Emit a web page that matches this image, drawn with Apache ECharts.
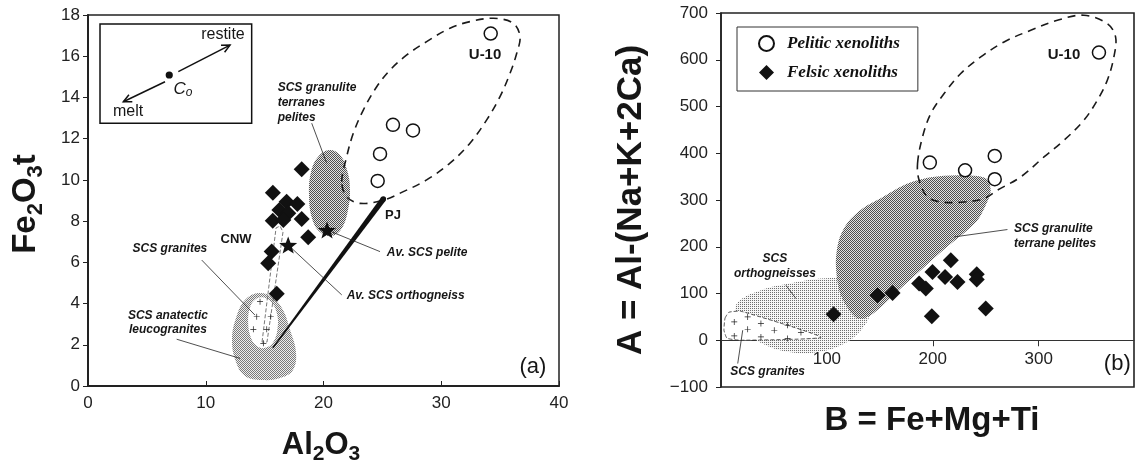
<!DOCTYPE html>
<html>
<head>
<meta charset="utf-8">
<script src="https://cdn.jsdelivr.net/npm/echarts@6/dist/echarts.min.js"></script>
<style>
html,body{margin:0;padding:0;background:#fff}
#chart{width:1136px;height:465px}
</style>
</head>
<body>
<div id="chart"></div>
<script>
// ---------- Panel (a): Al2O3 vs Fe2O3t (wt%) ----------
const pelitesA = [[34.2,17.1],[25.9,12.67],[27.6,12.4],[24.8,11.26],[24.6,9.95]];
const felsicA = [[18.15,10.52],[15.7,9.38],[16.87,8.94],[17.78,8.83],[16.25,8.54],[17.01,8.38],
                 [15.69,8.02],[16.59,8.05],[18.15,8.1],[18.7,7.22],[15.6,6.52],[15.3,5.96],[16.03,4.47]];
const avPeliteA = [[20.3,7.57]];
const avOrthoA = [[17.0,6.84]];
const granitePlusA = [[14.61,4.09],[14.33,3.36],[15.52,3.36],[14.04,2.75],[15.18,2.75],[14.89,2.07]];
const pelitesFieldA = [[21.55,9.91],[21.97,11.13],[22.53,12.26],[23.38,13.39],[24.52,14.52],[25.65,15.33],
  [27.07,16.06],[28.76,16.71],[30.74,17.36],[32.44,17.68],[34.42,17.84],[36.12,17.6],[36.69,16.95],
  [36.41,16.14],[35.84,15.17],[34.99,14.04],[33.86,12.91],[32.44,11.78],[30.74,10.81],[28.76,10.0],
  [26.78,9.43],[25.08,9.02],[23.1,8.86],[21.97,9.18]];
const granuliteFieldA = [[20.47,11.45],[21.4,11.21],[22.0,10.48],[22.25,9.51],[22.08,8.54],[21.57,7.67],
  [20.72,7.28],[19.7,7.47],[19.02,8.15],[18.77,9.27],[18.94,10.38],[19.53,11.11]];
const leucograniteFieldA = [[14.44,4.51],[15.63,4.32],[16.56,3.69],[17.16,2.72],[17.66,1.65],[17.41,0.78],
  [16.31,0.39],[14.78,0.29],[13.33,0.49],[12.57,1.16],[12.23,2.23],[12.57,3.3],[13.33,4.17]];
const graniteFieldA = [[14.86,4.3],[15.6,4.05],[16.05,3.5],[16.1,2.8],[15.75,2.15],[15.05,1.85],
  [14.3,1.95],[13.8,2.4],[13.6,3.1],[13.75,3.8],[14.2,4.2]];
const cnwFieldA = [[14.78,2.13],[15.97,7.67],[16.31,7.76],[16.56,7.47],[15.2,2.13]];
const pjTrendA = [[15.7,1.85],[25.08,9.07]];
const xTicksA = {min: 0, max: 40, step: 10};
const yTicksA = {min: 0, max: 18, step: 2};

// ---------- Panel (b): B = Fe+Mg+Ti vs A = Al-(Na+K+2Ca) ----------
const pelitesB = [[356.9,615.4],[197.2,380],[230.5,363.6],[258.5,394.2],[258.5,344.4]];
const felsicB = [[106.3,55.6],[147.8,96.3],[162,101.2],[187.1,121.2],[193.4,110.6],[199.7,146.1],
  [211.6,135.4],[217,171.1],[223.3,124.7],[241.5,141.2],[241.5,129.8],[250,67.8],[199.1,51.3]];
const granitePlusB = [[12.5,39.1],[25.2,49.8],[37.7,35.7],[50.3,21.4],[62.9,32.1],[75.5,16.5],
  [12.5,9.2],[25.2,23.5],[37.7,7.1],[62.9,3.6]];
const pelitesFieldB = [[185.6,378],[190.3,434.9],[198.1,484.9],[210.7,527.7],[226.4,570.5],[245.3,606],
  [267.3,638.1],[292.5,663.1],[317.6,684.5],[342.7,695.2],[364.8,677.4],[372.6,648.8],[371,606],
  [364.8,556.1],[355.4,513.4],[342.7,470.6],[323.9,427.8],[305,392.1],[283,349.3],[261,320.9],
  [248.4,303.1],[229.5,295.8],[207.5,295.8],[195,306.5],[187.1,342.2]];
const granuliteFieldB = [[128.3,47.1],[113.2,96.3],[108.5,160.4],[111.3,213.9],[119.8,252.4],[134,282.4],
  [150.9,303.7],[174.5,333.7],[198.1,348.7],[226.4,352.9],[250,346.5],[254.7,320.9],[250,288.8],
  [240.6,252.4],[207.5,188.2],[169.8,111.2],[141.5,53.5]];
const orthogneissFieldB = [[16,81.3],[37.7,107],[66,121.9],[99.1,132.6],[122.6,128.3],[137.7,107],
  [141.5,64.2],[132.1,21.4],[113.2,-10.7],[89.6,-25.7],[66,-25.7],[42.5,-10.7],[23.6,17.1],[14.2,53.5]];
const graniteFieldB = [[3.8,47.1],[7.5,59.9],[18.9,62],[94.3,6.4],[18.9,0],[5.7,4.3],[2.8,21.4]];
const xTicksB = {min: 0, max: 390, step: 100};
const yTicksB = {min: -100, max: 700, step: 100};

// ---------- styling helpers ----------
const SANS = '"Liberation Sans", Arial, sans-serif';
const SERIF = '"Liberation Serif", "Times New Roman", serif';
const INK = '#161616';

function dotPattern(size, dots, ink, paper) {
  const c = document.createElement('canvas');
  c.width = c.height = size;
  const g = c.getContext('2d');
  g.fillStyle = paper; g.fillRect(0, 0, size, size);
  g.fillStyle = ink;
  dots.forEach(([x, y]) => g.fillRect(x, y, 1, 1));
  return {image: c, repeat: 'repeat'};
}
const denseDots = dotPattern(2, [[0,0],[1,1]], '#505050', '#e4e4e4');
const midDots = dotPattern(2, [[0,0],[1,1]], '#7a7a7a', '#eeeeee');
const lightDots = dotPattern(2, [[0,0]], '#6e6e6e', '#f6f6f6');

const STAR = 'path://M50,0L62.35,33.01L97.55,34.55L69.97,56.49L79.4,90.45L50,71L20.6,90.45L30.03,56.49L2.45,34.55L37.65,33.01Z';
const PLUS = 'path://M4.4,0H5.6V4.4H10V5.6H5.6V10H4.4V5.6H0V4.4H4.4Z';

function shapeSeries(grid, pts, style, z, smooth) {
  return {
    type: 'custom', coordinateSystem: 'cartesian2d', xAxisIndex: grid, yAxisIndex: grid,
    silent: true, z: z, data: [pts[0]],
    renderItem: (p, api) => ({
      type: 'polygon',
      shape: {points: pts.map(q => api.coord(q)), smooth: smooth || 0},
      style: style
    })
  };
}

function leaderSeries(grid, segs) {
  return {
    type: 'custom', coordinateSystem: 'cartesian2d', xAxisIndex: grid, yAxisIndex: grid,
    silent: true, z: 4, data: segs, encode: {x: [0, 2], y: [1, 3]},
    renderItem: (p, api) => {
      const a = api.coord([api.value(0), api.value(1)]);
      const b = api.coord([api.value(2), api.value(3)]);
      return {type: 'line', shape: {x1: a[0], y1: a[1], x2: b[0], y2: b[1]},
              style: {stroke: '#222', lineWidth: 0.8}};
    }
  };
}

function noteSeries(grid, notes) {
  return {
    type: 'custom', coordinateSystem: 'cartesian2d', xAxisIndex: grid, yAxisIndex: grid,
    silent: true, z: 8, data: notes.map(n => n.at),
    renderItem: (p, api) => {
      const n = notes[p.dataIndex];
      const c = api.coord(n.at);
      return {type: 'text', x: c[0], y: c[1],
        style: Object.assign({text: n.text, fill: INK, font: n.font, align: n.align || 'center',
          verticalAlign: 'middle', lineHeight: n.lh || undefined}, n.rich ? {rich: n.rich} : {})};
    }
  };
}

const NOTE = 'italic bold 12px ' + SANS;

const notesA = [
  {text: 'SCS granites', at: [6.96, 6.65], font: NOTE},
  {text: 'SCS anatectic\nleucogranites', at: [6.79, 3.06], font: NOTE, lh: 14},
  {text: 'SCS granulite\nterranes\npelites', at: [16.11, 13.73], font: NOTE, lh: 15, align: 'left'},
  {text: 'Av. SCS pelite', at: [25.37, 6.49], font: NOTE, align: 'left'},
  {text: 'Av. SCS orthogneiss', at: [21.97, 4.37], font: NOTE, align: 'left'},
  {text: 'CNW', at: [12.57, 7.13], font: 'bold 13px ' + SANS},
  {text: 'U-10', at: [33.72, 16.06], font: 'bold 15px ' + SANS},
  {text: 'PJ', at: [25.9, 8.3], font: 'bold 13px ' + SANS},
  {text: '(a)', at: [37.79, 0.94], font: '22px ' + SANS},
  {text: 'restite', at: [11.46, 17.03], font: '16px ' + SANS},
  {text: 'melt', at: [3.4, 13.31], font: '16px ' + SANS},
  {text: '{c|C}{o|o}', at: [8.07, 14.41], font: 'italic 16px ' + SANS,
   rich: {c: {font: 'italic 17px ' + SANS, lineHeight: 20, verticalAlign: 'middle'},
          o: {font: 'italic 12px ' + SANS, lineHeight: 14, verticalAlign: 'bottom'}}}
];
const leadersA = [[9.66,6.11,14.18,3.44],[7.53,2.27,12.91,1.34],[19.0,12.75,20.27,10.81],
                  [20.3,7.57,24.8,6.52],[17.0,6.84,21.55,4.42]];

const notesB = [
  {text: 'SCS\northogneisses', at: [50.9, 158.7], font: NOTE, lh: 15},
  {text: 'SCS granites', at: [44.1, -67.8], font: NOTE},
  {text: 'SCS granulite\nterrane pelites', at: [276.7, 222.9], font: NOTE, lh: 15, align: 'left'},
  {text: 'U-10', at: [323.9, 609.6], font: 'bold 15px ' + SANS},
  {text: '(b)', at: [374.2, -49.8], font: '22px ' + SANS}
];
const leadersB = [[61.3,117.6,70.8,89.2],[15.8,-49.8,20.5,21.4],[270.5,236.8,220.1,221]];

// inset sketch in panel (a): the melt/restite vector diagram
const insetA = {
  box: [[1.02, 17.56], [13.9, 12.75]],
  c0: [6.9, 15.09],
  arrows: [[[7.67, 15.25], [12.06, 16.54]], [[6.54, 14.76], [3.0, 13.79]]]
};

function insetSeries() {
  return {
    type: 'custom', coordinateSystem: 'cartesian2d', xAxisIndex: 0, yAxisIndex: 0,
    silent: true, z: 6, data: [insetA.c0],
    renderItem: (p, api) => {
      const a = api.coord(insetA.box[0]), b = api.coord(insetA.box[1]);
      const kids = [{type: 'rect', shape: {x: a[0], y: a[1], width: b[0] - a[0], height: b[1] - a[1]},
                     style: {fill: '#fff', stroke: '#111', lineWidth: 1.5}}];
      const d = api.coord(insetA.c0);
      kids.push({type: 'circle', shape: {cx: d[0], cy: d[1], r: 3.6}, style: {fill: '#111'}});
      insetA.arrows.forEach(([s, e]) => {
        const ps = api.coord(s), pe = api.coord(e);
        const ang = Math.atan2(pe[1] - ps[1], pe[0] - ps[0]);
        const L = 9, w = 0.45;
        kids.push({type: 'line', shape: {x1: ps[0], y1: ps[1], x2: pe[0], y2: pe[1]},
                   style: {stroke: '#111', lineWidth: 1.5}});
        kids.push({type: 'polyline', shape: {points: [
            [pe[0] - L * Math.cos(ang - w), pe[1] - L * Math.sin(ang - w)], pe,
            [pe[0] - L * Math.cos(ang + w), pe[1] - L * Math.sin(ang + w)]]},
          style: {stroke: '#111', lineWidth: 1.5, fill: 'none'}});
      });
      return {type: 'group', children: kids};
    }
  };
}

function pjSeries() {
  return {
    type: 'custom', coordinateSystem: 'cartesian2d', xAxisIndex: 0, yAxisIndex: 0,
    silent: true, z: 4, data: [pjTrendA[0]],
    renderItem: (p, api) => {
      const s = api.coord(pjTrendA[0]), e = api.coord(pjTrendA[1]);
      const dx = e[0] - s[0], dy = e[1] - s[1], len = Math.hypot(dx, dy);
      const nx = -dy / len, ny = dx / len, w0 = 0.8, w1 = 2.8;
      return {type: 'group', children: [
        {type: 'polygon', shape: {points: [[s[0] + nx * w0, s[1] + ny * w0], [e[0] + nx * w1, e[1] + ny * w1],
          [e[0] - nx * w1, e[1] - ny * w1], [s[0] - nx * w0, s[1] - ny * w0]]}, style: {fill: '#111'}},
        {type: 'circle', shape: {cx: e[0], cy: e[1], r: w1}, style: {fill: '#111'}}
      ]};
    }
  };
}

const axisLabel = {color: '#222', fontFamily: SANS, fontSize: 17};
const openCircle = {color: '#fff', borderColor: '#111', borderWidth: 1.5, opacity: 1};
const solidMark = {color: '#111', opacity: 1};

// panel (b) plot box; its B axis is drawn along A = 0
const gridB = {left: 721, top: 13, width: 413, height: 374};
const zeroOffsetB = -gridB.height * (0 - yTicksB.min) / (yTicksB.max - yTicksB.min);

const option = {
  animation: false,
  backgroundColor: '#fff',
  grid: [
    {left: 88, top: 15, width: 471, height: 371, show: true, borderColor: '#222', borderWidth: 1.5, backgroundColor: 'transparent'},
    Object.assign({show: true, borderColor: '#222', borderWidth: 1.6, backgroundColor: 'transparent'}, gridB)
  ],
  xAxis: [
    {type: 'value', gridIndex: 0, min: xTicksA.min, max: xTicksA.max, interval: xTicksA.step,
     axisLine: {lineStyle: {color: '#222', width: 2}}, axisTick: {inside: true, length: 5, lineStyle: {color: '#222'}},
     axisLabel: Object.assign({margin: 9}, axisLabel), splitLine: {show: false}},
    {type: 'value', gridIndex: 1, min: xTicksB.min, max: xTicksB.max, interval: xTicksB.step,
     position: 'bottom', offset: zeroOffsetB,
     axisLine: {onZero: false, lineStyle: {color: '#333', width: 1}}, axisTick: {length: 6, lineStyle: {color: '#333'}},
     axisLabel: Object.assign({margin: 11, showMinLabel: false, showMaxLabel: false}, axisLabel), splitLine: {show: false}}
  ],
  yAxis: [
    {type: 'value', gridIndex: 0, min: yTicksA.min, max: yTicksA.max, interval: yTicksA.step,
     axisLine: {show: true, lineStyle: {color: '#222', width: 2}}, axisTick: {show: true, length: 5, lineStyle: {color: '#222'}},
     axisLabel: Object.assign({margin: 8}, axisLabel), splitLine: {show: false}},
    {type: 'value', gridIndex: 1, min: yTicksB.min, max: yTicksB.max, interval: yTicksB.step,
     axisLine: {show: true, onZero: false, lineStyle: {color: '#222', width: 1.5}}, axisTick: {show: true, length: 5, lineStyle: {color: '#222'}},
     axisLabel: Object.assign({margin: 13, formatter: v => String(v).replace('-', '\u2212')}, axisLabel), splitLine: {show: false}}
  ],
  legend: {
    data: ['Pelitic xenoliths', 'Felsic xenoliths'], orient: 'vertical', left: 737, top: 27,
    padding: [8, 18, 10, 21], itemGap: 12, itemWidth: 15, itemHeight: 15, selectedMode: false,
    borderColor: '#333', borderWidth: 1, backgroundColor: '#fff',
    textStyle: {fontFamily: SERIF, fontStyle: 'italic', fontWeight: 'bold', fontSize: 17, color: '#111',
                padding: [0, 0, 0, 8]}
  },
  graphic: [
    {type: 'text', x: 26, y: 204, rotation: Math.PI / 2, style: {
      text: '{b|Fe}{s|2}{b|O}{s|3}{b|t}', align: 'center', verticalAlign: 'middle',
      rich: {b: {font: 'bold 33px ' + SANS, fill: INK, lineHeight: 42, verticalAlign: 'middle'},
             s: {font: 'bold 22px ' + SANS, fill: INK, lineHeight: 21, verticalAlign: 'bottom'}}}},
    {type: 'text', x: 321, y: 445, style: {
      text: '{b|Al}{s|2}{b|O}{s|3}', align: 'center', verticalAlign: 'middle',
      rich: {b: {font: 'bold 31px ' + SANS, fill: INK, lineHeight: 40, verticalAlign: 'middle'},
             s: {font: 'bold 21px ' + SANS, fill: INK, lineHeight: 20, verticalAlign: 'bottom'}}}},
    {type: 'text', x: 631, y: 200, rotation: Math.PI / 2, style: {
      text: 'A = Al-(Na+K+2Ca)', font: 'bold 35px ' + SANS, fill: INK, align: 'center', verticalAlign: 'middle'}},
    {type: 'text', x: 932, y: 421, style: {
      text: 'B = Fe+Mg+Ti', font: 'bold 33px ' + SANS, fill: INK, align: 'center', verticalAlign: 'middle'}}
  ],
  series: [
    // panel (a) fields
    shapeSeries(0, leucograniteFieldA, {fill: midDots}, 1, 0.4),
    shapeSeries(0, graniteFieldA, {fill: '#fff'}, 1, 0.4),
    shapeSeries(0, granuliteFieldA, {fill: denseDots}, 1, 0.4),
    shapeSeries(0, pelitesFieldA, {fill: 'none', stroke: '#1a1a1a', lineWidth: 1.6, lineDash: [8, 6]}, 3, 0.35),
    shapeSeries(0, cnwFieldA, {fill: 'none', stroke: '#555', lineWidth: 0.8, lineDash: [4, 2]}, 3, 0),
    pjSeries(),
    leaderSeries(0, leadersA),
    insetSeries(),
    {name: 'SCS granites', type: 'scatter', xAxisIndex: 0, yAxisIndex: 0, data: granitePlusA,
     symbol: PLUS, symbolSize: 6, itemStyle: {color: '#222', opacity: 1}, z: 5, silent: true},
    {name: 'Pelitic xenoliths', type: 'scatter', xAxisIndex: 0, yAxisIndex: 0, data: pelitesA,
     symbol: 'circle', symbolSize: 13, itemStyle: openCircle, z: 5},
    {name: 'Felsic xenoliths', type: 'scatter', xAxisIndex: 0, yAxisIndex: 0, data: felsicA,
     symbol: 'diamond', symbolSize: 16, itemStyle: solidMark, z: 5},
    {name: 'Av. SCS pelite', type: 'scatter', xAxisIndex: 0, yAxisIndex: 0, data: avPeliteA,
     symbol: STAR, symbolKeepAspect: true, symbolSize: 18, itemStyle: solidMark, z: 5},
    {name: 'Av. SCS orthogneiss', type: 'scatter', xAxisIndex: 0, yAxisIndex: 0, data: avOrthoA,
     symbol: STAR, symbolKeepAspect: true, symbolSize: 18, itemStyle: solidMark, z: 5},
    noteSeries(0, notesA),

    // panel (b) fields
    shapeSeries(1, orthogneissFieldB, {fill: lightDots}, 1, 0.4),
    shapeSeries(1, granuliteFieldB, {fill: denseDots}, 1, 0.3),
    shapeSeries(1, graniteFieldB, {fill: '#fff', stroke: '#333', lineWidth: 0.8, lineDash: [4, 2]}, 2, 0.15),
    shapeSeries(1, pelitesFieldB, {fill: 'none', stroke: '#1a1a1a', lineWidth: 1.6, lineDash: [8, 6]}, 3, 0.35),
    leaderSeries(1, leadersB),
    {name: 'SCS granites', type: 'scatter', xAxisIndex: 1, yAxisIndex: 1, data: granitePlusB,
     symbol: PLUS, symbolSize: 6, itemStyle: {color: '#222', opacity: 1}, z: 5, silent: true},
    {name: 'Pelitic xenoliths', type: 'scatter', xAxisIndex: 1, yAxisIndex: 1, data: pelitesB,
     symbol: 'circle', symbolSize: 13, itemStyle: openCircle, z: 5},
    {name: 'Felsic xenoliths', type: 'scatter', xAxisIndex: 1, yAxisIndex: 1, data: felsicB,
     symbol: 'diamond', symbolSize: 16, itemStyle: solidMark, z: 5},
    noteSeries(1, notesB)
  ]
};

const chart = echarts.init(document.getElementById('chart'), null, {renderer: 'canvas'});
chart.setOption(option);
</script>
</body>
</html>
